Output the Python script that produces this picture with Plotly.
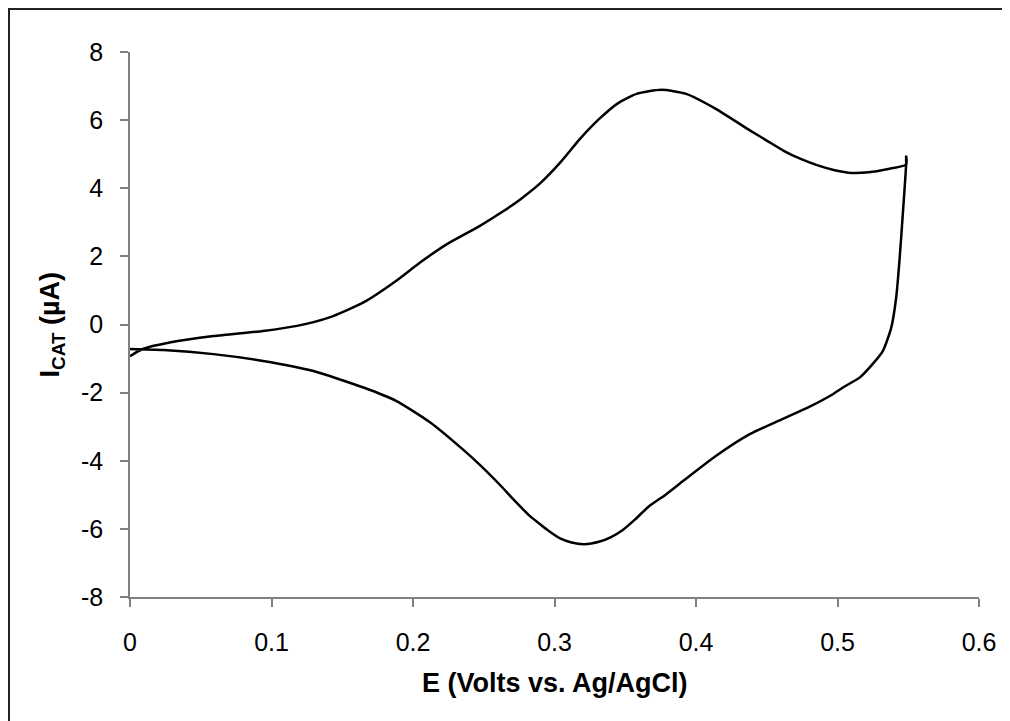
import plotly.graph_objects as go

# Forward (anodic) sweep, E in V, I in uA
fwd_E = [0.0, 0.009, 0.028, 0.059, 0.094, 0.118, 0.141, 0.165, 0.188, 0.205, 0.224, 0.247,
         0.264, 0.276, 0.290, 0.304, 0.318, 0.332, 0.345, 0.358, 0.3755, 0.393, 0.414,
         0.438, 0.450, 0.462, 0.474, 0.486, 0.498, 0.510, 0.522, 0.535, 0.5485, 0.5485]
fwd_I = [-0.93, -0.72, -0.53, -0.34, -0.19, -0.04, 0.21, 0.65, 1.28, 1.82, 2.36, 2.89,
         3.33, 3.68, 4.15, 4.75, 5.45, 6.05, 6.50, 6.77, 6.89, 6.77, 6.33,
         5.70, 5.40, 5.10, 4.86, 4.67, 4.53, 4.45, 4.47, 4.56, 4.70, 4.96]

# Reverse (cathodic) sweep
rev_E = [0.5485, 0.546, 0.5438, 0.5415, 0.538, 0.532, 0.524, 0.5156, 0.505, 0.497, 0.480,
         0.461, 0.438, 0.414, 0.391, 0.379, 0.367, 0.357, 0.348, 0.340, 0.332, 0.321,
         0.312, 0.304, 0.296, 0.290, 0.2825, 0.272, 0.261, 0.248, 0.235, 0.212,
         0.188, 0.165, 0.129, 0.094, 0.059, 0.0235, 0.0]
rev_I = [4.70, 3.15, 1.88, 0.80, -0.09, -0.78, -1.20, -1.56, -1.82, -2.04, -2.42,
         -2.78, -3.22, -3.86, -4.59, -4.98, -5.33, -5.72, -6.04, -6.24, -6.37, -6.45,
         -6.40, -6.28, -6.06, -5.87, -5.62, -5.18, -4.69, -4.15, -3.66, -2.87,
         -2.24, -1.85, -1.36, -1.07, -0.87, -0.75, -0.72]

x_ticks = [0, 0.1, 0.2, 0.3, 0.4, 0.5, 0.6]
x_tick_text = ["0", "0.1", "0.2", "0.3", "0.4", "0.5", "0.6"]
y_ticks = [-8, -6, -4, -2, 0, 2, 4, 6, 8]
y_tick_text = ["-8", "-6", "-4", "-2", "0", "2", "4", "6", "8"]

x_title = "E (Volts vs. Ag/AgCl)"
y_title = "I<sub>CAT</sub> (µA)"

fig = go.Figure()
fig.add_trace(go.Scatter(
    x=fwd_E + rev_E, y=fwd_I + rev_I, mode="lines",
    line=dict(color="black", width=2.5, shape="spline", smoothing=0.6),
    showlegend=False, hoverinfo="skip"))

axis_common = dict(showline=True, linecolor="#808080", linewidth=1.5,
                   ticks="outside", ticklen=8, tickwidth=1.5, tickcolor="#808080",
                   showgrid=False, zeroline=False,
                   tickfont=dict(family="Liberation Sans, Arial", size=25, color="black"))

fig.update_xaxes(range=[0, 0.6], tickvals=x_ticks, ticktext=x_tick_text,
                 ticklabelstandoff=14, **axis_common)
fig.update_yaxes(range=[-8, 8], tickvals=y_ticks, ticktext=y_tick_text,
                 ticklabelstandoff=12, **axis_common)

L, T, R, B = 122, 44, 39, 132
fig.update_layout(
    width=1010, height=721,
    margin=dict(l=L, r=R, t=T, b=B),
    paper_bgcolor="white", plot_bgcolor="white",
    font=dict(family="Liberation Sans, Arial", color="black"),
    annotations=[
        dict(text="<b>" + x_title + "</b>", xref="paper", yref="paper",
             x=0.5, y=-0.158, xanchor="center", yanchor="middle", showarrow=False,
             font=dict(size=27)),
        dict(text="<b>" + y_title + "</b>", xref="paper", yref="paper",
             x=-0.092, y=0.5, xanchor="center", yanchor="middle", showarrow=False,
             textangle=-90, font=dict(size=27)),
    ],
    shapes=[
        dict(type="rect", xref="paper", yref="paper",
             x0=-(L - 1) / (1010 - L - R), x1=1 + (R - 1) / (1010 - L - R),
             y0=-(B - 1) / (721 - T - B), y1=1 + (T - 1) / (721 - T - B),
             line=dict(color="#222222", width=2), fillcolor="rgba(0,0,0,0)"),
    ],
)

fig.write_html("out.html")
